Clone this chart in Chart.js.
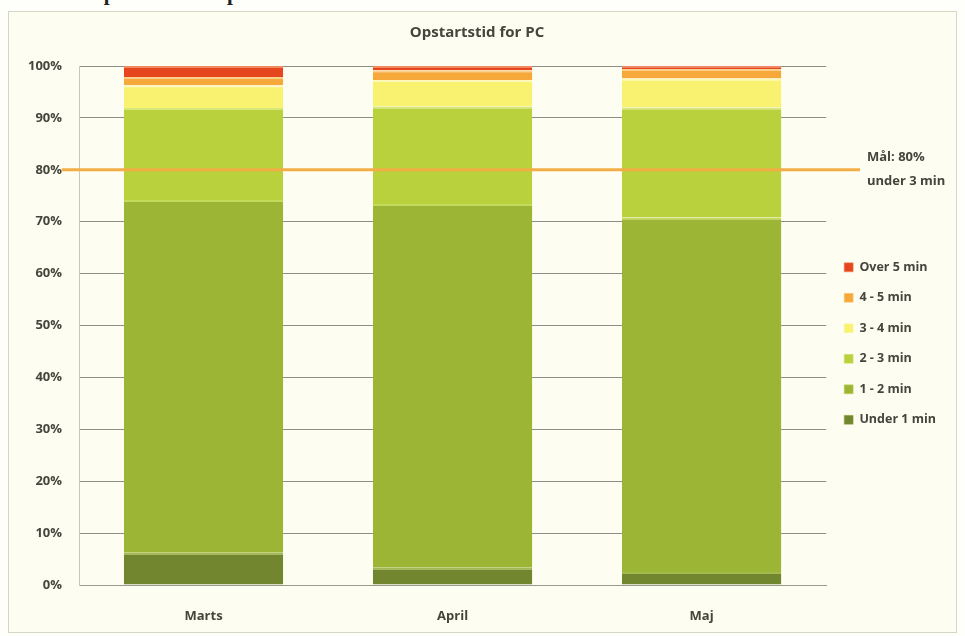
<!DOCTYPE html>
<html>
<head>
<meta charset="utf-8">
<script src="https://cdn.jsdelivr.net/npm/chart.js@4"></script>
<style>
    html, body { margin: 0; padding: 0; background: #fefefb; overflow: hidden; }
    #caption {
        position: absolute; left: 10px; top: -19px;
        font: bold 21px "Liberation Serif", serif; color: #222;
        white-space: nowrap;
    }
    #frame {
        position: absolute; left: 8px; top: 11px; width: 947px; height: 620px;
        border: 1px solid #d6d6c2; background: #fdfdf2;
    }
    #wrap { position: absolute; left: 0; top: 0; width: 965px; height: 636px; }
</style>
</head>
<body>
<div id="caption">Tabel 5: Opstartstid for pc</div>
<div id="frame"></div>
<div id="wrap"><canvas id="chart"></canvas></div>
<script>
// Data (procent af PC'er pr. måned)
const categories = ['Marts', 'April', 'Maj'];
const under1 = [6.2, 3.3, 2.5];
const min1to2 = [68.0, 70.1, 68.3];
const min2to3 = [17.7, 18.8, 21.2];
const min3to4 = [4.4, 5.1, 5.6];
const min4to5 = [1.6, 1.9, 1.8];
const over5 = [2.1, 0.8, 0.6];
const seriesNames = ['Under 1 min', '1 - 2 min', '2 - 3 min', '3 - 4 min', '4 - 5 min', 'Over 5 min'];
const yTicks = [0, 10, 20, 30, 40, 50, 60, 70, 80, 90, 100];
const goalValue = 80;
const goalLabel = ['Mål: 80%', 'under 3 min'];

const fillColors = ['#72862f', '#9cb535', '#b8d13d', '#f9f170', '#f6a93a', '#e5461e'];
const edgeColors = ['#a3b84e', '#c4da5a', '#d6e87a', '#fdf9b8', '#fbd08a', '#f08860'];
const textColor = '#45453c';

// Mål-linje og tekst ved 80%
const goalLine = {
    id: 'goalLine',
    afterDatasetsDraw(chart) {
        const y = chart.scales.y.getPixelForValue(goalValue);
        const ctx = chart.ctx;
        ctx.save();
        ctx.strokeStyle = '#f3ad45';
        ctx.lineWidth = 3;
        ctx.beginPath();
        ctx.moveTo(62, y);
        ctx.lineTo(860, y);
        ctx.stroke();
        ctx.fillStyle = textColor;
        ctx.font = 'bold 13px "Open Sans"';
        ctx.textBaseline = 'middle';
        ctx.fillText(goalLabel[0], 867, y - 13);
        ctx.fillText(goalLabel[1], 867, y + 11);
        ctx.restore();
    }
};

const datasets = [under1, min1to2, min2to3, min3to4, min4to5, over5].map((vals, i) => ({
    label: seriesNames[i],
    data: vals,
    backgroundColor: fillColors[i],
    borderColor: edgeColors[i],
    borderWidth: { top: 2, left: 0, right: 0, bottom: 0 },
    borderSkipped: false
}));

new Chart(document.getElementById('chart'), {
    type: 'bar',
    data: { labels: categories, datasets: datasets },
    options: {
        responsive: true,
        maintainAspectRatio: false,
        animation: false,
        categoryPercentage: 1,
        barPercentage: 0.64,
        layout: { padding: { left: 8, right: 19, top: 14, bottom: 6 } },
        plugins: {
            title: {
                display: true,
                text: 'Opstartstid for PC',
                color: textColor,
                font: { family: 'Open Sans', size: 15, weight: 'bold' },
                padding: { top: 10, bottom: 24 }
            },
            legend: {
                position: 'right',
                reverse: true,
                title: { display: true, text: ' ', padding: 21, font: { size: 1 } },
                labels: {
                    boxWidth: 9,
                    boxHeight: 9,
                    padding: 18,
                    color: textColor,
                    font: { family: 'Open Sans', size: 12.5, weight: 'bold' }
                }
            },
            tooltip: { enabled: false }
        },
        scales: {
            x: {
                stacked: true,
                grid: { display: false },
                border: { display: true, color: '#9a9a90' },
                ticks: {
                    color: textColor,
                    padding: 15,
                    font: { family: 'Open Sans', size: 13, weight: 'bold' }
                },
                afterFit(scale) { scale.height = 45; }
            },
            y: {
                stacked: true,
                min: 0,
                max: 100,
                afterBuildTicks(scale) { scale.ticks = yTicks.map(v => ({ value: v })); },
                grid: { color: '#8e8e86', lineWidth: 1, drawTicks: false },
                border: { display: true, color: '#c8c8b8' },
                ticks: {
                    color: textColor,
                    padding: 17,
                    font: { family: 'Open Sans', size: 13, weight: 'bold' },
                    callback: v => v + '%'
                },
                afterFit(scale) { scale.width = 71; }
            }
        }
    },
    plugins: [goalLine]
});
</script>
</body>
</html>
